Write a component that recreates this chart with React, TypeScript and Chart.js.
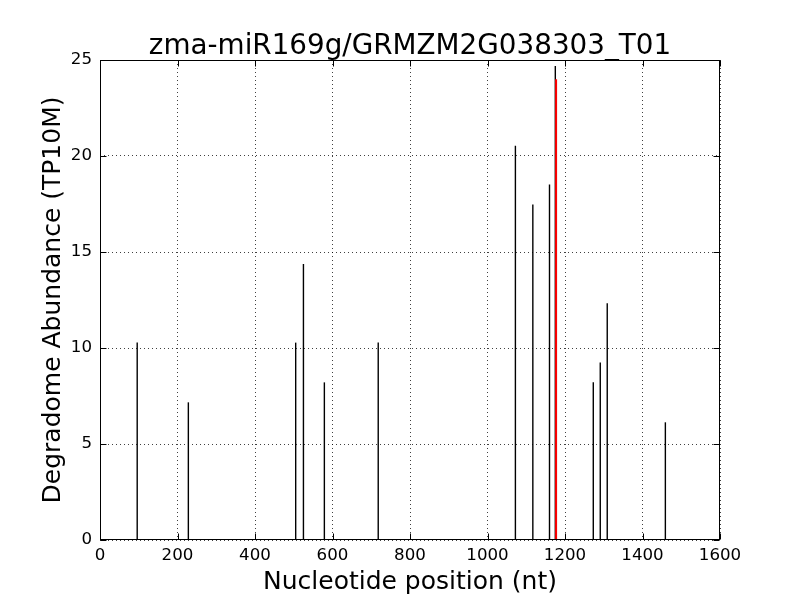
import React, { useEffect, useRef } from "react";
import { Chart, registerables } from "chart.js";

Chart.register(...registerables);

const TITLE = "zma-miR169g/GRMZM2G038303_T01";
const X_LABEL = "Nucleotide position (nt)";
const Y_LABEL = "Degradome Abundance (TP10M)";

// Degradome tags (black stems)
const positions = [96, 228, 505, 525, 579, 718, 1072, 1117, 1160, 1175, 1273, 1291, 1309, 1459];
const abundances = [10.28, 7.17, 10.28, 14.38, 8.21, 10.28, 20.54, 17.48, 18.52, 24.69, 8.21, 9.25, 12.33, 6.13];

// Cleavage site (red stem)
const sitePositions = [1177];
const siteAbundances = [24.0];

const xTicks = [0, 200, 400, 600, 800, 1000, 1200, 1400, 1600];
const yTicks = [0, 5, 10, 15, 20, 25];

const FONT = "'DejaVu Sans', 'Liberation Sans', sans-serif";

const titlePlugin = {
  id: "plotTitle",
  afterDraw(chart: any) {
    const { ctx, chartArea } = chart;
    ctx.save();
    ctx.fillStyle = "#000";
    ctx.font = `27.8px ${FONT}`;
    ctx.textAlign = "center";
    ctx.textBaseline = "alphabetic";
    ctx.fillText(TITLE, (chartArea.left + chartArea.right) / 2, chartArea.top - 6.5);
    ctx.restore();
  },
};

const framePlugin = {
  id: "frame",
  afterDraw(chart: any) {
    const { ctx, chartArea } = chart;
    const xs = chart.scales.x;
    const ys = chart.scales.y;
    const l = Math.round(chartArea.left) + 0.5;
    const r = Math.round(chartArea.right) - 0.5;
    const t = Math.round(chartArea.top) + 0.5;
    const b = Math.round(chartArea.bottom) - 0.5;
    const len = 6;
    ctx.save();
    ctx.strokeStyle = "#000";
    ctx.lineWidth = 1;
    ctx.beginPath();
    for (const v of xTicks) {
      const px = Math.round(xs.getPixelForValue(v)) + 0.5;
      ctx.moveTo(px, b);
      ctx.lineTo(px, b - len);
      ctx.moveTo(px, t);
      ctx.lineTo(px, t + len);
    }
    for (const v of yTicks) {
      const py = Math.round(ys.getPixelForValue(v)) + 0.5;
      ctx.moveTo(l, py);
      ctx.lineTo(l + len, py);
      ctx.moveTo(r, py);
      ctx.lineTo(r - len, py);
    }
    ctx.stroke();
    ctx.strokeRect(l, t, r - l, b - t);
    ctx.restore();
  },
};

export default function App() {
  const ref = useRef<HTMLCanvasElement>(null);

  useEffect(() => {
    if (!ref.current) return;
    const site = sitePositions.map((p, i) => ({
      data: [
        { x: p, y: 0 },
        { x: p, y: siteAbundances[i] },
      ],
      borderColor: "#ff0000",
      borderWidth: 2,
      pointRadius: 0,
    }));
    const stems = positions.map((p, i) => ({
      data: [
        { x: p, y: 0 },
        { x: p, y: abundances[i] },
      ],
      borderColor: "#000000",
      borderWidth: 1.4,
      pointRadius: 0,
    }));

    const chart = new Chart(ref.current, {
      type: "line",
      data: { datasets: [...site, ...stems] as any },
      options: {
        responsive: false,
        animation: false,
        layout: { padding: { left: 0, right: 80, top: 60, bottom: 0 } },
        plugins: {
          legend: { display: false },
          tooltip: { enabled: false },
          title: { display: false },
        },
        scales: {
          x: {
            type: "linear",
            min: 0,
            max: 1600,
            afterFit: (s: any) => {
              s.height = 60;
            },
            afterBuildTicks: (s: any) => {
              s.ticks = xTicks.map((v) => ({ value: v }));
            },
            ticks: {
              color: "#000",
              font: { family: FONT, size: 16.67 },
              padding: 6,
              maxRotation: 0,
              autoSkip: false,
              callback: (v: any) => String(v),
            },
            grid: {
              color: "rgba(0,0,0,0.75)",
              lineWidth: 1,
              drawTicks: false,
              tickLength: 0,
            },
            border: { display: false, dash: [1, 3] },
            title: {
              display: true,
              text: X_LABEL,
              color: "#000",
              font: { family: FONT, size: 25 },
              padding: { top: 0, bottom: 3 },
            },
          },
          y: {
            type: "linear",
            min: 0,
            max: 25,
            afterFit: (s: any) => {
              s.width = 100;
            },
            afterBuildTicks: (s: any) => {
              s.ticks = yTicks.map((v) => ({ value: v }));
            },
            ticks: {
              color: "#000",
              font: { family: FONT, size: 16.67 },
              padding: 8,
              autoSkip: false,
              callback: (v: any) => String(v),
            },
            grid: {
              color: "rgba(0,0,0,0.75)",
              lineWidth: 1,
              drawTicks: false,
              tickLength: 0,
            },
            border: { display: false, dash: [1, 3] },
            title: {
              display: true,
              text: Y_LABEL,
              color: "#000",
              font: { family: FONT, size: 25 },
              padding: { top: 38, bottom: 0 },
            },
          },
        },
      } as any,
      plugins: [framePlugin, titlePlugin],
    });
    return () => chart.destroy();
  }, []);

  return (
    <div style={{ position: "fixed", left: 0, top: 0, width: 800, height: 600, background: "#fff" }}>
      <canvas ref={ref} width={800} height={600} style={{ display: "block" }} />
    </div>
  );
}
